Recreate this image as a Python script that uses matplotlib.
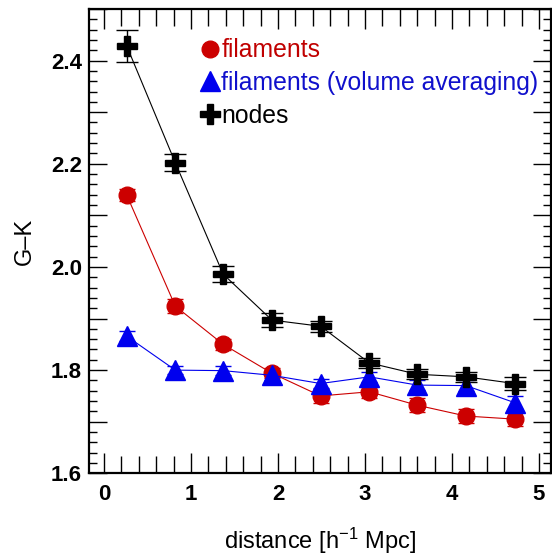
import numpy as np
import matplotlib
matplotlib.use('Agg')
import matplotlib.pyplot as plt
from matplotlib.ticker import MultipleLocator, FuncFormatter
from matplotlib.lines import Line2D

plt.rcParams.update({
    'font.family': ['Liberation Sans', 'DejaVu Sans'],
    'mathtext.fontset': 'custom',
    'mathtext.rm': 'Liberation Sans',
    'mathtext.it': 'Liberation Sans:italic',
})

# radial distance bins [h^-1 Mpc]
distance = [0.26, 0.82, 1.37, 1.93, 2.49, 3.05, 3.60, 4.16, 4.72]

# G-K colour profiles
gk_filaments = [2.140, 1.924, 1.850, 1.794, 1.750, 1.758, 1.732, 1.711, 1.705]
err_filaments = [0.012, 0.013, 0.011, 0.010, 0.013, 0.013, 0.013, 0.013, 0.013]

gk_filaments_vol = [1.866, 1.800, 1.799, 1.790, 1.774, 1.787, 1.771, 1.770, 1.737]
err_filaments_vol = [0.009, 0.008, 0.009, 0.009, 0.009, 0.010, 0.010, 0.010, 0.012]

gk_nodes = [2.429, 2.202, 1.986, 1.897, 1.885, 1.814, 1.792, 1.787, 1.774]
err_nodes = [0.031, 0.016, 0.015, 0.013, 0.011, 0.009, 0.010, 0.010, 0.012]

labels = ['filaments', 'filaments (volume averaging)', 'nodes']

RED = '#cc0000'
BLUE = '#0000ee'
BLACK = '#000000'

fig = plt.figure(figsize=(5.52, 5.55), dpi=100)
ax = fig.add_axes([89 / 552, 1 - 473.3 / 555, 462 / 552, 464.3 / 555])

ax.errorbar(distance, gk_filaments, yerr=err_filaments, fmt='o-', color=RED,
            ms=12, lw=0.8, elinewidth=1.0, capsize=6, capthick=1.0)
ax.errorbar(distance, gk_filaments_vol, yerr=err_filaments_vol, fmt='^-', color=BLUE,
            ms=14, lw=0.8, elinewidth=1.0, capsize=6, capthick=1.0)
ax.errorbar(distance, gk_nodes, yerr=err_nodes, fmt='P-', color=BLACK,
            ms=14, lw=0.8, elinewidth=1.0, capsize=8, capthick=1.0)

ax.set_xlim(-0.172, 5.138)
ax.set_ylim(1.6, 2.5)

ax.xaxis.set_major_locator(MultipleLocator(1))
ax.xaxis.set_minor_locator(MultipleLocator(0.2))
ax.yaxis.set_major_locator(MultipleLocator(0.1))
ax.yaxis.set_minor_locator(MultipleLocator(0.02))
ax.yaxis.set_major_formatter(FuncFormatter(
    lambda v, p: f'{v:.1f}' if round(v * 10) % 2 == 0 else ''))

ax.tick_params(which='both', direction='in', top=True, right=True, width=1.0)
ax.tick_params(axis='x', which='major', length=14.5, pad=8)
ax.tick_params(axis='x', which='minor', length=12.5)
ax.tick_params(axis='y', which='major', length=13, pad=5)
ax.tick_params(axis='y', which='minor', length=5.5)
for lab in ax.get_xticklabels() + ax.get_yticklabels():
    lab.set_fontsize(16)
    lab.set_fontweight('bold')
for s in ax.spines.values():
    s.set_linewidth(1.6)

ax.set_xlabel('distance [h$^{-1}$ Mpc]', fontsize=17, labelpad=15)
ax.set_ylabel('G\u2013K', fontsize=17, labelpad=11)

handles = [
    Line2D([], [], color=RED, marker='o', ls='none', ms=12),
    Line2D([], [], color=BLUE, marker='^', ls='none', ms=14),
    Line2D([], [], color=BLACK, marker='P', ls='none', ms=14),
]
ax.legend(handles, labels, loc='upper left', bbox_to_anchor=(0.246, 0.937),
          frameon=False, fontsize=17.8, handlelength=0.6, handletextpad=0.15,
          borderpad=0, borderaxespad=0, labelspacing=0.35,
          labelcolor=['#c00000', '#1010cc', BLACK])

fig.savefig('out.png', dpi=100)
